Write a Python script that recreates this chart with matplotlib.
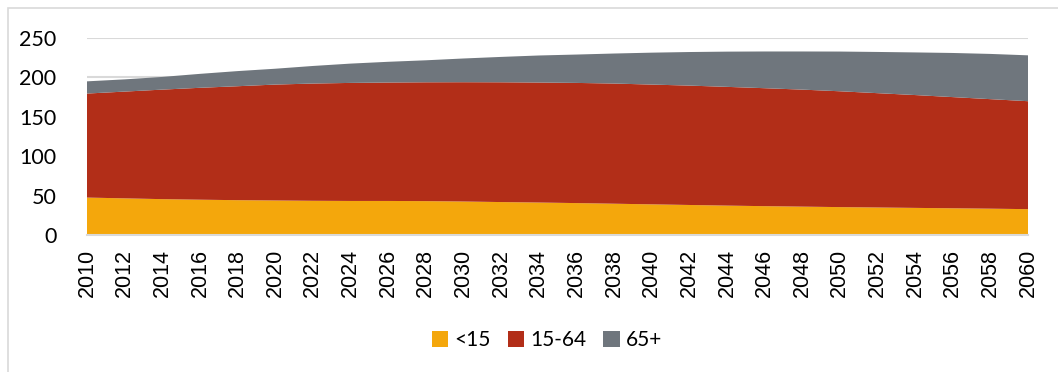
import matplotlib.pyplot as plt
from matplotlib.patches import Rectangle

years = list(range(2010, 2061, 2))
under15 = [47.5, 46.5, 45.5, 44.8, 44.2, 43.8, 43.4, 43.2, 43.2, 43.0, 42.5, 41.8, 41.2,
           40.5, 39.7, 38.9, 38.1, 37.3, 36.6, 36.0, 35.4, 34.9, 34.4, 33.9, 33.4, 32.8]
age15_64 = [132.0, 135.5, 139.0, 142.0, 144.6, 147.1, 148.8, 149.8, 150.3, 150.8, 151.4, 152.0, 152.3,
            152.5, 152.5, 152.0, 151.5, 150.7, 149.7, 148.5, 147.0, 145.1, 143.2, 141.1, 139.0, 137.0]
over65 = [15.5, 15.5, 16.1, 17.7, 19.2, 20.1, 22.3, 24.5, 26.3, 27.9, 30.1, 32.2, 34.3,
          36.0, 38.1, 40.5, 42.6, 44.7, 46.6, 48.4, 50.4, 52.3, 54.1, 56.0, 57.4, 58.2]
labels = ['<15', '15-64', '65+']
colors = ['#F4A70C', '#B22E18', '#6F767D']

fig = plt.figure(figsize=(10.58, 3.72), dpi=100)
ax = fig.add_axes([87 / 1058, 1 - 235 / 372, (1028 - 87) / 1058, (235 - 38) / 372])

ax.stackplot(years, under15, age15_64, over65, labels=labels, colors=colors, linewidth=0)

ax.set_xlim(2010, 2060)
ax.set_ylim(0, 250)
ax.set_yticks(range(0, 251, 50))
ax.set_xticks(years)
ax.set_xticklabels([str(y) for y in years], rotation=90, fontsize=15.5,
                   family='Liberation Sans')
for t in ax.get_yticklabels():
    t.set_family('Lato')
    t.set_fontsize(15.5)

ax.yaxis.grid(True, color='#d9d9d9', linewidth=1.5)
ax.set_axisbelow(True)
for s in ['top', 'right', 'left']:
    ax.spines[s].set_visible(False)
ax.spines['bottom'].set_color('#d9d9d9')
ax.spines['bottom'].set_linewidth(1.5)
ax.tick_params(length=0)
ax.tick_params(axis='x', pad=10)
ax.tick_params(axis='y', pad=22)

leg = fig.legend(loc='center', bbox_to_anchor=(547 / 1058, 1 - 340 / 372), ncol=3,
                 frameon=False, handlelength=0.8, handleheight=0.8, handletextpad=0.3,
                 columnspacing=0.8, prop={'family': 'Lato', 'size': 15})

fig.patches.append(Rectangle((8 / 1058, -0.1), 1.2, 1 - 8 / 372 + 0.1,
                             transform=fig.transFigure, fill=False,
                             edgecolor='#d9d9d9', linewidth=1.2))

fig.savefig('out.png', dpi=100)
